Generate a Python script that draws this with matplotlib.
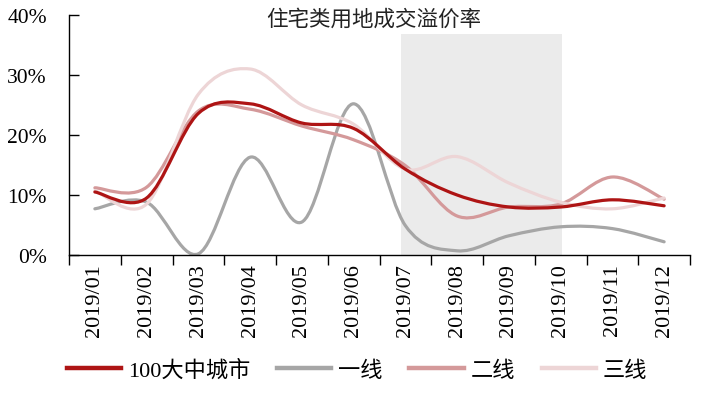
import matplotlib
matplotlib.use("Agg")
import matplotlib.pyplot as plt
from matplotlib.path import Path
from matplotlib.patches import PathPatch
from matplotlib.lines import Line2D
from matplotlib.ticker import FuncFormatter, MultipleLocator

plt.rcParams['font.family'] = ['Liberation Serif', 'Noto Sans CJK SC', 'DejaVu Sans']

months = ["2019/01", "2019/02", "2019/03", "2019/04", "2019/05", "2019/06",
          "2019/07", "2019/08", "2019/09", "2019/10", "2019/11", "2019/12"]
city100 = [10.5, 9.5, 23.6, 25.2, 22.0, 21.1, 14.3, 10.0, 8.0, 8.0, 9.2, 8.2]
tier1 = [7.7, 8.8, 0.2, 16.3, 5.5, 25.2, 4.9, 0.7, 3.2, 4.7, 4.4, 2.2]
tier2 = [11.2, 11.3, 24.0, 24.3, 21.5, 19.2, 14.9, 6.5, 8.0, 8.5, 13.0, 9.3]
tier3 = [10.7, 8.5, 26.8, 31.0, 25.0, 21.8, 14.3, 16.4, 12.0, 8.8, 7.7, 9.5]
series_names = ["100大中城市", "一线", "二线", "三线"]
title_text = "住宅类用地成交溢价率"

colors = ["#AE1414", "#A6A6A6", "#D4999A", "#EDD5D6"]

fig = plt.figure(figsize=(7.03, 4.02), dpi=100)
ax = fig.add_axes([69 / 703, 1 - 256 / 402, 621 / 703, 240 / 402])

ax.set_xlim(-0.5, len(months) - 0.5)
ax.set_ylim(0, 40)

# highlighted period
ax.fill_between([5.92, 9.03], 0, 36.8, color="#EBEBEB", lw=0, zorder=0)


def smooth_path(xs, ys, t=1 / 6):
    n = len(xs)
    verts = [(xs[0], ys[0])]
    codes = [Path.MOVETO]
    for i in range(n - 1):
        x0, y0 = xs[max(i - 1, 0)], ys[max(i - 1, 0)]
        x1, y1 = xs[i], ys[i]
        x2, y2 = xs[i + 1], ys[i + 1]
        x3, y3 = xs[min(i + 2, n - 1)], ys[min(i + 2, n - 1)]
        c1 = (x1 + (x2 - x0) * t, y1 + (y2 - y0) * t)
        c2 = (x2 - (x3 - x1) * t, y2 - (y3 - y1) * t)
        verts += [c1, c2, (x2, y2)]
        codes += [Path.CURVE4] * 3
    return Path(verts, codes)


xs = list(range(len(months)))
all_series = [city100, tier1, tier2, tier3]
zorders = [5, 2, 3, 4]
for vals, c, z in zip(all_series, colors, zorders):
    p = smooth_path(xs, vals)
    ax.add_patch(PathPatch(p, fill=False, edgecolor=c, lw=2.3, zorder=z,
                           capstyle="round", joinstyle="round"))

# axes styling
for s in ["top", "right"]:
    ax.spines[s].set_visible(False)
ax.spines["left"].set_linewidth(1.0)
ax.spines["bottom"].set_linewidth(1.0)

ax.set_xticks(xs)
ax.set_xticklabels(months, rotation=90, fontsize=16)
ax.set_xticks([i - 0.5 for i in range(len(months) + 1)], minor=True)
ax.tick_params(axis="x", which="major", length=0, pad=6)
ax.tick_params(axis="x", which="minor", length=7, width=1, direction="out")

ax.yaxis.set_major_locator(MultipleLocator(10))
ax.yaxis.set_major_formatter(FuncFormatter(lambda v, p: f"{int(round(v))}%"))
ax.tick_params(axis="y", direction="in", length=7, width=1, labelsize=15.5, pad=16)

ax.text(0.49, 0.985, title_text, transform=ax.transAxes, ha="center", va="center",
        fontsize=15.5, family=['Noto Sans CJK SC', 'DejaVu Sans'], color="#222222")

handles = [Line2D([], [], color=c, lw=3.2) for c in colors]
fig.legend(handles, series_names, loc="center", bbox_to_anchor=(357 / 703, 1 - 371 / 402),
           ncol=4, frameon=False, handlelength=2.45, handletextpad=0.3,
           columnspacing=1.2, prop={'family': ['Liberation Serif', 'Noto Sans CJK SC'], 'size': 16})

fig.savefig("out.png", dpi=100)
